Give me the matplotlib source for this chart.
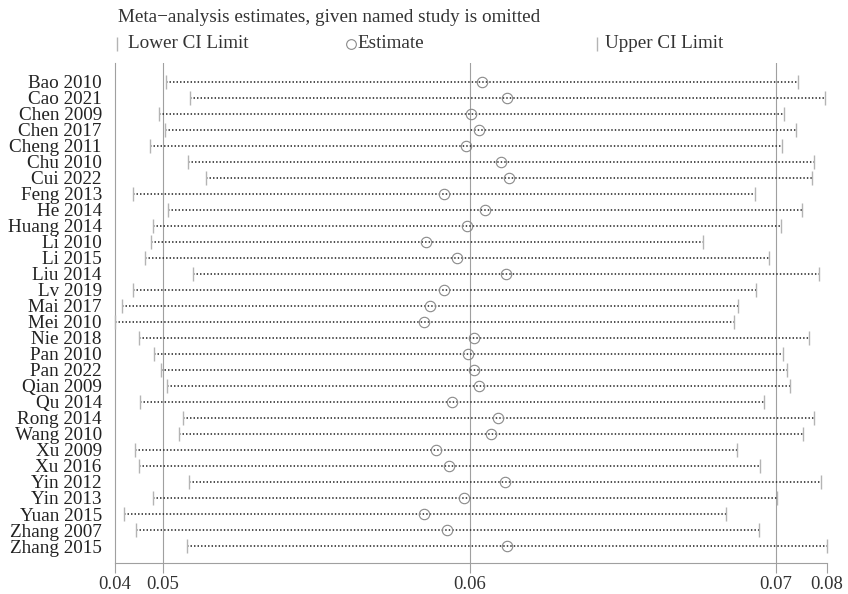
import matplotlib
matplotlib.use("Agg")
import matplotlib.pyplot as plt
from matplotlib.lines import Line2D
import numpy as np

plt.rcParams['font.family'] = ['Liberation Serif', 'DejaVu Serif']

studies = ["Bao 2010", "Cao 2021", "Chen 2009", "Chen 2017", "Cheng 2011", "Chu 2010",
           "Cui 2022", "Feng 2013", "He 2014", "Huang 2014", "Li 2010", "Li 2015",
           "Liu 2014", "Lv 2019", "Mai 2017", "Mei 2010", "Nie 2018", "Pan 2010",
           "Pan 2022", "Qian 2009", "Qu 2014", "Rong 2014", "Wang 2010", "Xu 2009",
           "Xu 2016", "Yin 2012", "Yin 2013", "Yuan 2015", "Zhang 2007", "Zhang 2015"]

lower_ci = [0.04519, 0.04636, 0.04481, 0.04512, 0.04441, 0.04626,
            0.04711, 0.04356, 0.04525, 0.04455, 0.04442, 0.04413,
            0.04650, 0.04358, 0.04303, 0.04268, 0.04387, 0.04457,
            0.04494, 0.04522, 0.04390, 0.04601, 0.04582, 0.04366,
            0.04384, 0.04628, 0.04454, 0.04312, 0.04369, 0.04619]

estimate = [0.06058, 0.06181, 0.06003, 0.06043, 0.05981, 0.06152,
            0.06190, 0.05871, 0.06073, 0.05985, 0.05785, 0.05936,
            0.06173, 0.05871, 0.05805, 0.05775, 0.06019, 0.05988,
            0.06019, 0.06042, 0.05913, 0.06137, 0.06100, 0.05832,
            0.05897, 0.06170, 0.05972, 0.05777, 0.05887, 0.06180]

upper_ci = [0.07600, 0.07732, 0.07530, 0.07589, 0.07521, 0.07678,
            0.07667, 0.07391, 0.07620, 0.07514, 0.07134, 0.07459,
            0.07701, 0.07392, 0.07306, 0.07287, 0.07651, 0.07524,
            0.07545, 0.07561, 0.07434, 0.07675, 0.07623, 0.07300,
            0.07412, 0.07711, 0.07495, 0.07248, 0.07407, 0.07740]

overall_lower = 0.0450
overall_est = 0.05997
overall_upper = 0.0749

tick_labels = ["0.04", "0.05", "0.06", "0.07", "0.08"]

title_text = "Meta\u2212analysis estimates, given named study is omitted"
legend_labels = ["Lower CI Limit", "Estimate", "Upper CI Limit"]

W, H = 848, 594
fig = plt.figure(figsize=(W / 100, H / 100), dpi=100)
ax = fig.add_axes([115 / W, 1 - 563 / H, (827 - 115) / W, (563 - 63) / H])

y = np.arange(len(studies))
lo = np.array(lower_ci)
up = np.array(upper_ci)
est = np.array(estimate)

gray_line = '#a0a0a0'
tick_gray = '#b4b4b4'
fs = 13.8

# reference lines
for v in (overall_lower, overall_est, overall_upper):
    ax.axvline(v, color=gray_line, lw=0.8, zorder=1)

# dotted CI lines
for yi, a, b in zip(y, lo, up):
    ax.plot([a, b], [yi, yi], color='#262626', lw=1.15,
            linestyle=(0, (0.9, 1.3)), zorder=2, solid_capstyle='butt')

ax.plot(lo, y, linestyle='none', marker='|', markersize=9.5, mew=1.0,
        color=tick_gray, zorder=3, clip_on=False)
ax.plot(up, y, linestyle='none', marker='|', markersize=9.5, mew=1.0,
        color=tick_gray, zorder=3, clip_on=False)
ax.plot(est, y, linestyle='none', marker='o', markersize=7.5, mew=0.8,
        markerfacecolor='none', markeredgecolor='#8a8a8a', zorder=4)

xmin, xmax = lo.min(), up.max()
ax.set_xlim(xmin, xmax)
ax.set_ylim(len(studies) - 1 + 1.06, -1.17)

ax.set_xticks([xmin, overall_lower, overall_est, overall_upper, xmax])
ax.set_xticklabels(tick_labels, fontsize=13.5, color='#333333')
ax.set_yticks(y)
ax.set_yticklabels(studies, fontsize=fs, color='#222222')

ax.tick_params(axis='y', length=0, pad=9.5)
ax.tick_params(axis='x', length=7, width=0.8, color=gray_line, direction='out', pad=2.5)

for s in ('top', 'right'):
    ax.spines[s].set_visible(False)
for s in ('left', 'bottom'):
    ax.spines[s].set_color(gray_line)
    ax.spines[s].set_linewidth(0.8)

# title
fig.text(118 / W, 1 - 18 / H, title_text, fontsize=fs, color='#333333',
         ha='left', va='center')

# legend (manual)
ly = 1 - 44 / H
fig.add_artist(Line2D([117 / W], [ly], marker='|', markersize=9.5, mew=1.0,
                      color=tick_gray, linestyle='none'))
fig.text(128 / W, ly, legend_labels[0], fontsize=fs, color='#333333', ha='left', va='center')
fig.add_artist(Line2D([351 / W], [ly], marker='o', markersize=7, mew=0.8,
                      markerfacecolor='none', markeredgecolor='#8a8a8a', linestyle='none'))
fig.text(357 / W, ly, legend_labels[1], fontsize=fs, color='#333333', ha='left', va='center')
fig.add_artist(Line2D([597 / W], [ly], marker='|', markersize=9.5, mew=1.0,
                      color=tick_gray, linestyle='none'))
fig.text(605 / W, ly, legend_labels[2], fontsize=fs, color='#333333', ha='left', va='center')

fig.savefig("out.png", dpi=100)
